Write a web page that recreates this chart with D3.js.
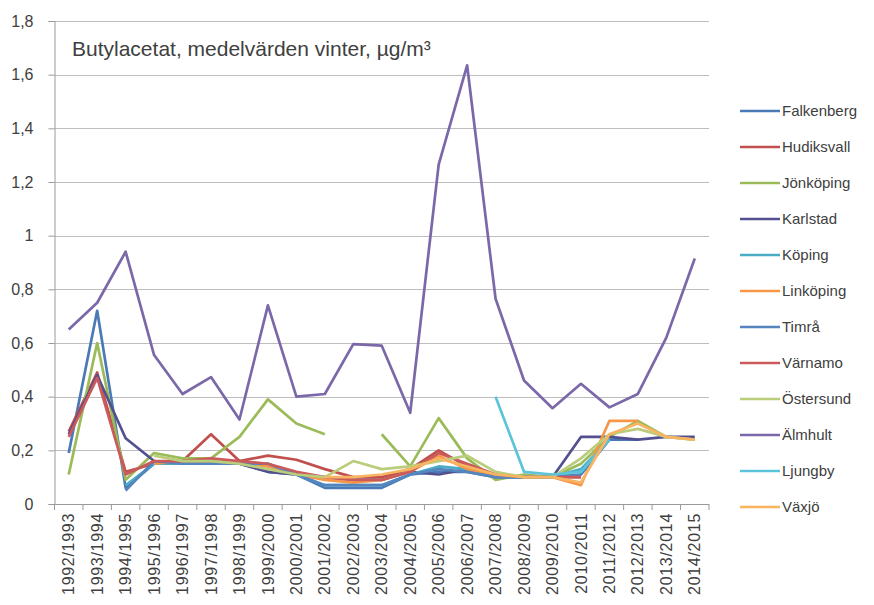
<!DOCTYPE html>
<html>
<head>
<meta charset="utf-8">
<script src="https://cdn.jsdelivr.net/npm/d3@7"></script>
<style>
  body { margin: 0; background: #fff; }
  text { font-family: "Liberation Sans", Arial, sans-serif; fill: #404040; }
</style>
</head>
<body>
<div id="chart"></div>
<script>
// Butylacetat, winter means per town
const years = ['1992/1993', '1993/1994', '1994/1995', '1995/1996', '1996/1997', '1997/1998',
  '1998/1999', '1999/2000', '2000/2001', '2001/2002', '2002/2003', '2003/2004', '2004/2005',
  '2005/2006', '2006/2007', '2007/2008', '2008/2009', '2009/2010', '2010/2011', '2011/2012',
  '2012/2013', '2013/2014', '2014/2015'];

const towns = ['Falkenberg', 'Hudiksvall', 'Jönköping', 'Karlstad', 'Köping', 'Linköping',
  'Timrå', 'Värnamo', 'Östersund', 'Älmhult', 'Ljungby', 'Växjö'];

const colors = ['#4A7AB5', '#C0504D', '#9BBB59', '#53508F', '#4BACC6', '#F79646',
  '#5584BE', '#CB5A5A', '#B9CD7A', '#7B68A8', '#5BC4DB', '#F9B462'];

const falkenberg = [0.19, 0.72, 0.06, 0.15, 0.15, 0.15, 0.15, 0.12, 0.11, 0.06, 0.06, 0.06, 0.11, 0.12, 0.12, 0.10, 0.10, 0.10, 0.11, 0.24, 0.24, null, null];
const hudiksvall = [0.27, 0.49, 0.12, 0.15, 0.16, 0.26, 0.16, 0.18, 0.165, 0.13, 0.10, 0.10, 0.13, 0.20, 0.14, 0.11, 0.10, 0.10, 0.10, null, null, null, null];
const jonkoping = [0.11, 0.60, 0.09, 0.19, 0.17, 0.17, 0.25, 0.39, 0.30, 0.26, null, 0.26, 0.14, 0.32, 0.17, 0.09, 0.11, 0.10, 0.15, 0.25, 0.31, 0.25, 0.24];
const karlstad = [0.26, 0.48, 0.245, 0.16, 0.15, 0.16, 0.15, 0.12, 0.11, 0.10, 0.09, 0.09, 0.12, 0.11, 0.13, 0.10, 0.10, 0.10, 0.25, 0.25, 0.24, 0.25, 0.25];
const koping = [null, null, 0.07, 0.15, 0.15, 0.15, 0.15, 0.15, 0.11, 0.07, 0.07, 0.07, 0.11, 0.14, 0.13, 0.10, 0.10, 0.10, 0.13, 0.24, null, null, null];
const linkoping = [null, null, null, 0.15, 0.16, 0.16, 0.15, 0.14, 0.11, 0.09, 0.08, 0.09, 0.12, 0.18, 0.13, 0.11, 0.10, 0.10, 0.07, 0.31, 0.31, null, null];
const timra = [null, null, 0.05, 0.16, 0.15, 0.15, 0.15, 0.15, 0.11, 0.07, 0.07, 0.07, 0.11, 0.13, 0.12, 0.10, 0.10, 0.10, 0.11, 0.24, null, null, null];
const varnamo = [0.25, 0.47, 0.11, 0.16, 0.16, 0.17, 0.16, 0.15, 0.12, 0.10, 0.09, 0.09, 0.12, 0.19, 0.15, 0.11, 0.10, 0.10, 0.10, null, null, null, null];
const ostersund = [null, null, null, 0.18, 0.16, 0.16, 0.15, 0.13, 0.11, 0.10, 0.16, 0.13, 0.14, 0.16, 0.18, 0.12, 0.10, 0.10, 0.17, 0.26, 0.28, 0.25, 0.24];
const almhult = [0.65, 0.75, 0.94, 0.555, 0.41, 0.473, 0.315, 0.74, 0.40, 0.41, 0.596, 0.59, 0.34, 1.265, 1.635, 0.765, 0.46, 0.357, 0.448, 0.36, 0.41, 0.62, 0.915];
const ljungby = [null, null, null, null, null, null, null, null, null, null, null, null, null, null, null, 0.40, 0.12, 0.11, 0.12, 0.24, null, null, null];
const vaxjo = [null, null, null, null, null, null, null, null, null, 0.10, 0.10, 0.11, 0.13, 0.17, 0.14, 0.11, 0.10, 0.10, 0.08, 0.26, 0.30, 0.25, 0.24];

const series = [falkenberg, hudiksvall, jonkoping, karlstad, koping, linkoping,
  timra, varnamo, ostersund, almhult, ljungby, vaxjo];

const yTicks = [0, 0.2, 0.4, 0.6, 0.8, 1, 1.2, 1.4, 1.6, 1.8];

const width = 874, height = 605;
const margin = { top: 21, right: 165, bottom: 101, left: 54.5 };

const svg = d3.select('#chart')
  .append('svg')
  .attr('width', width)
  .attr('height', height);

const x = d3.scaleBand()
  .domain(years)
  .range([margin.left, width - margin.right])
  .padding(0);

const y = d3.scaleLinear()
  .domain([0, 1.8])
  .range([height - margin.bottom, margin.top]);

const fmt = d => String(+d.toFixed(1)).replace('.', ',');

// grid lines
svg.append('g')
  .selectAll('line')
  .data(yTicks.filter(d => d > 0))
  .enter()
  .append('line')
  .attr('x1', margin.left)
  .attr('x2', width - margin.right)
  .attr('y1', d => Math.round(y(d)) + 0.5)
  .attr('y2', d => Math.round(y(d)) + 0.5)
  .attr('stroke', '#bdbdbd')
  .attr('stroke-width', 1.2);

// y axis
const yAxis = svg.append('g')
  .attr('transform', `translate(${margin.left},0)`)
  .call(d3.axisLeft(y).tickValues(yTicks).tickSize(6).tickPadding(15).tickFormat(fmt));
yAxis.selectAll('path, line').attr('stroke', '#9a9a9a');
yAxis.selectAll('text')
  .style('font-size', '16px')
  .style('font-family', '"Liberation Sans", Arial, sans-serif')
  .attr('fill', '#404040');

// x axis with ticks on category boundaries
const x0 = y(0);
svg.append('line')
  .attr('x1', margin.left).attr('x2', width - margin.right)
  .attr('y1', Math.round(x0) + 0.5).attr('y2', Math.round(x0) + 0.5)
  .attr('stroke', '#9a9a9a');

const bounds = years.map(d => x(d)).concat([x(years[years.length - 1]) + x.bandwidth()]);
svg.append('g')
  .selectAll('line')
  .data(bounds)
  .enter()
  .append('line')
  .attr('x1', d => d).attr('x2', d => d)
  .attr('y1', x0).attr('y2', x0 + 6)
  .attr('stroke', '#9a9a9a');

svg.append('g')
  .selectAll('text')
  .data(years)
  .enter()
  .append('text')
  .attr('transform', d => `translate(${x(d) + x.bandwidth() / 2},${x0 + 9}) rotate(-90)`)
  .attr('text-anchor', 'end')
  .attr('dy', '0.35em')
  .style('font-size', '16px')
  .style('letter-spacing', '0.7px')
  .text(d => d);

// lines
const line = d3.line()
  .defined(d => d != null)
  .x((d, i) => x(years[i]) + x.bandwidth() / 2)
  .y(d => y(d));

series.forEach((s, k) => {
  svg.append('path')
    .datum(s)
    .attr('fill', 'none')
    .attr('stroke', colors[k])
    .attr('stroke-width', 2.7)
    .attr('stroke-linejoin', 'round')
    .attr('d', line);
});

// title
svg.append('text')
  .attr('x', 72)
  .attr('y', 56)
  .style('font-size', '21px')
  .attr('fill', '#262626')
  .text('Butylacetat, medelvärden vinter, µg/m³');

// legend
const legend = svg.append('g');
towns.forEach((t, k) => {
  const ly = 111 + k * 36;
  legend.append('line')
    .attr('x1', 740).attr('x2', 780)
    .attr('y1', ly).attr('y2', ly)
    .attr('stroke', colors[k])
    .attr('stroke-width', 2.7);
  legend.append('text')
    .attr('x', 782)
    .attr('y', ly)
    .attr('dy', '0.35em')
    .style('font-size', '15px')
    .text(t);
});
</script>
</body>
</html>
